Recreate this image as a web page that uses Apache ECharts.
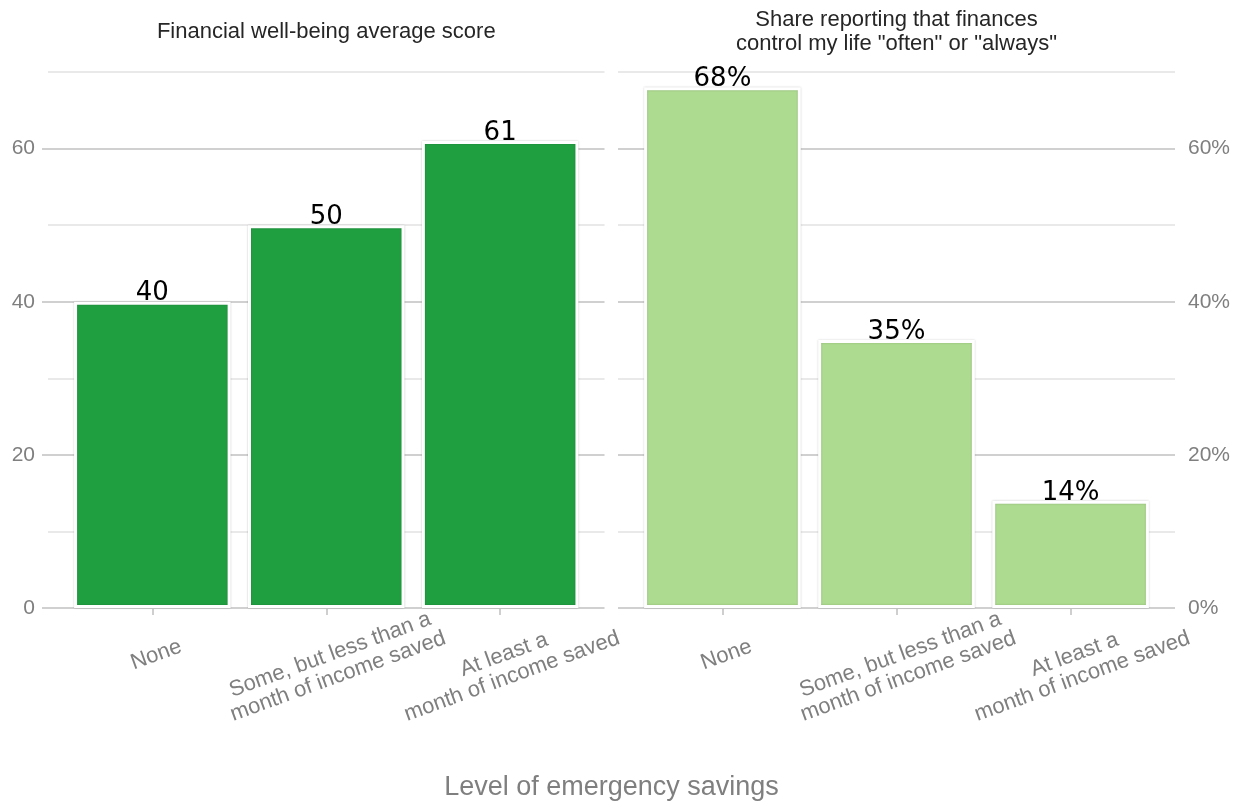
<!DOCTYPE html>
<html>
<head>
<meta charset="utf-8">
<title>Emergency savings and financial well-being</title>
<script src="https://cdn.jsdelivr.net/npm/echarts@6/dist/echarts.min.js"></script>
<style>
  html, body { margin: 0; padding: 0; background: #ffffff; }
  #chart { width: 1243px; height: 802px; }
</style>
</head>
<body>
<div id="chart"></div>
<script>
// ---- data ----
const categories = [
  'None',
  'Some, but less than a\nmonth of income saved',
  'At least a\nmonth of income saved'
];
const wellBeingScore = [40, 50, 61];
const financesControlShare = [68, 35, 14];
const panelTitles = [
  'Financial well-being average score',
  'Share reporting that finances\ncontrol my life "often" or "always"'
];
const xAxisTitle = 'Level of emergency savings';

// ---- look ----
const DARK_GREEN = '#209f41';
const LIGHT_GREEN = '#addb8f';
const MAJOR_GRID = '#d0d0d0';
const MINOR_GRID = '#e2e2e2';
const AXIS_TEXT = '#7f7f7f';
const TITLE_TEXT = '#262626';
const FONT = 'Liberation Sans';

// shared vertical frame: value 70 at the top line, 0 at the bottom line
const Y_TOP_VALUE = 70;
const Y_MAJOR_MAX = 60;
const plotTop = 72;
const plotBottom = 608;
const plotHeight = plotBottom - plotTop;
const majorTop = plotBottom - (Y_MAJOR_MAX / Y_TOP_VALUE) * plotHeight;

// two facets, each with 0.6 band of padding on each side of the three bars
const panels = [
  { x0: 48, x1: 604.5, data: wellBeingScore, color: DARK_GREEN, side: 'left', suffix: '' },
  { x0: 618, x1: 1175, data: financesControlShare, color: LIGHT_GREEN, side: 'right', suffix: '%' }
];

const grids = [], xAxes = [], yAxes = [], series = [], titles = [];

panels.forEach((p, i) => {
  const w = p.x1 - p.x0;
  const unit = w / 3.2;
  const base = grids.length;

  // minor grid lines (10, 30, 50, 70)
  grids.push({ left: p.x0, width: w, top: plotTop, height: plotHeight });
  // major grid lines with ticks and labels (0, 20, 40, 60)
  grids.push({ left: p.x0, width: w, top: majorTop, height: plotBottom - majorTop });
  // bars
  grids.push({ left: p.x0 + 0.1 * unit, width: 3 * unit, top: plotTop, height: plotHeight });

  xAxes.push({ gridIndex: base, type: 'value', show: false, min: 0, max: 1 });
  xAxes.push({ gridIndex: base + 1, type: 'value', show: false, min: 0, max: 1 });
  xAxes.push({
    gridIndex: base + 2,
    type: 'category',
    data: categories,
    offset: 26,
    axisLine: { show: false },
    axisTick: { show: true, alignWithLabel: true, length: 7, lineStyle: { color: '#cfcfcf', width: 2 } },
    axisLabel: {
      interval: 0,
      rotate: 20,
      align: 'center',
      verticalAlign: 'top',
      margin: 10,
      color: AXIS_TEXT,
      fontFamily: FONT,
      fontSize: 22,
      lineHeight: 23
    },
    splitLine: { show: false }
  });

  yAxes.push({
    gridIndex: base,
    type: 'value',
    min: 0,
    max: Y_TOP_VALUE,
    interval: 10,
    axisLine: { show: false },
    axisTick: { show: false },
    axisLabel: { show: false },
    splitLine: { show: true, lineStyle: { color: ['transparent', MINOR_GRID], width: 1.5 } }
  });
  yAxes.push({
    gridIndex: base + 1,
    type: 'value',
    position: p.side,
    min: 0,
    max: Y_MAJOR_MAX,
    interval: 20,
    axisLine: { show: false },
    axisTick: { show: true, length: 6, lineStyle: { color: MAJOR_GRID, width: 2 } },
    axisLabel: {
      color: AXIS_TEXT,
      fontFamily: FONT,
      fontSize: 21,
      margin: 13,
      formatter: '{value}' + p.suffix
    },
    splitLine: { show: true, lineStyle: { color: MAJOR_GRID, width: 2 } }
  });
  yAxes.push({ gridIndex: base + 2, type: 'value', min: 0, max: Y_TOP_VALUE, show: false });

  series.push({
    type: 'bar',
    xAxisIndex: base + 2,
    yAxisIndex: base + 2,
    data: p.data,
    barWidth: '90%',
    itemStyle: {
      color: p.color,
      borderColor: '#ffffff',
      borderWidth: 3,
      shadowColor: 'rgba(0,0,0,0.22)',
      shadowBlur: 2
    },
    label: {
      show: true,
      position: 'top',
      distance: -5,
      color: '#000000',
      fontFamily: 'DejaVu Sans',
      fontSize: 26,
      formatter: '{c}' + p.suffix
    }
  });

  const lines = panelTitles[i].split('\n').length;
  titles.push({
    text: panelTitles[i],
    left: (p.x0 + p.x1) / 2,
    top: 32 - lines * 12,
    padding: 0,
    textAlign: 'center',
    textStyle: { color: TITLE_TEXT, fontFamily: FONT, fontSize: 22, fontWeight: 'normal', lineHeight: 24 }
  });
});

titles.push({
  text: xAxisTitle,
  left: (panels[0].x0 + panels[1].x1) / 2,
  top: 774,
  padding: 0,
  textAlign: 'center',
  textStyle: { color: AXIS_TEXT, fontFamily: FONT, fontSize: 27, fontWeight: 'normal' }
});

const chart = echarts.init(document.getElementById('chart'), null, { renderer: 'canvas' });
chart.setOption({
  animation: false,
  backgroundColor: '#ffffff',
  textStyle: { fontFamily: FONT },
  title: titles,
  grid: grids,
  xAxis: xAxes,
  yAxis: yAxes,
  series: series
});
</script>
</body>
</html>
